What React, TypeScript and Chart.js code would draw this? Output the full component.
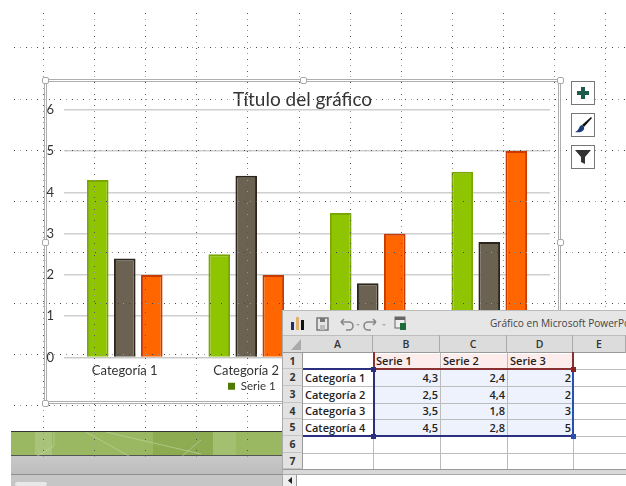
import React, { useEffect, useRef } from "react";
import { Chart, registerables } from "chart.js";

Chart.register(...registerables);

const categories = ["Categoría 1", "Categoría 2", "Categoría 3", "Categoría 4"];
const seriesNames = ["Serie 1", "Serie 2", "Serie 3"];
const serie1 = [4.3, 2.5, 3.5, 4.5];
const serie2 = [2.4, 4.4, 1.8, 2.8];
const serie3 = [2, 2, 3, 5];
const allSeries = [serie1, serie2, serie3];
const titleText = "Título del gráfico";
const columnLetters = ["A", "B", "C", "D", "E"];
const rowNumbers = [1, 2, 3, 4, 5, 6, 7];

const fills = ["#8fc400", "#6b6252", "#ff6600"];
const borders = ["#7aa600", "#2b251c", "#c93a00"];
const legendFills = ["#4e7a00", "#4a4438", "#c94f00"];
const chartFont = "'Lato', 'Liberation Sans', sans-serif";
const sheetFont = "'Open Sans', 'Noto Sans', sans-serif";

const colX = [303, 373, 440, 507, 573, 640];
const rowY = [353, 369, 386, 403, 419, 436, 453, 469];
const gridXs = [43, 94, 145, 196, 247, 299, 350, 401, 452, 503, 554, 605];
const gridYs = [47, 99, 150, 201, 252, 303, 354, 405];

const abs = (l: number, t: number, w: number, h: number): React.CSSProperties => ({
  position: "absolute", left: l, top: t, width: w, height: h, boxSizing: "border-box",
});

function Handle({ x, y }: { x: number; y: number }) {
  return <div style={{ ...abs(x - 3, y - 3, 7, 7), background: "#fff", border: "1px solid #a8a8a8", borderRadius: 2 }} />;
}

function SideButton({ y, children }: { y: number; children: React.ReactNode }) {
  return (
    <div style={{ ...abs(571, y, 24, 24), background: "#fff", border: "1px solid #777" }}>
      <svg width="22" height="22" viewBox="0 0 22 22" style={{ display: "block" }}>{children}</svg>
    </div>
  );
}

function Sheet() {
  const cell = (l: number, t: number, w: number, h: number, txt: string, o: React.CSSProperties = {}) => (
    <div key={`${l}-${t}`} style={{
      ...abs(l, t, w, h), fontFamily: sheetFont, fontSize: 11, fontWeight: 600, lineHeight: `${h}px`, color: "#222",
      paddingLeft: 2, paddingRight: 2, whiteSpace: "nowrap", overflow: "hidden", ...o,
    }}>{txt}</div>
  );
  return (
    <div style={{ ...abs(0, 0, 626, 486), pointerEvents: "none" }}>
      {/* soft halo the window leaves on what is behind it */}
      <div style={{ ...abs(277, 378, 6, 16), background: "#fff" }} />
      <div style={{ ...abs(282, 310, 344, 176), background: "#e6e6e6", borderLeft: "1px solid #aaa", borderTop: "1px solid #bbb" }} />
      {/* title bar */}
      <svg style={{ position: "absolute", left: 288, top: 314 }} width="120" height="18" viewBox="0 0 120 18">
        <rect x="3" y="8" width="3" height="8" fill="#1f2f6b" />
        <rect x="8" y="3" width="3" height="13" fill="#e0b070" />
        <rect x="13" y="6" width="3" height="10" fill="#111" />
        <rect x="29" y="4" width="11" height="12" fill="none" stroke="#777" strokeWidth="1.5" />
        <rect x="32" y="4" width="5" height="4" fill="#777" />
        <rect x="32" y="11" width="5" height="5" fill="#bbb" />
        <path d="M53 8 h8 a4 4 0 0 1 0 8 h-3 M53 8 l3-3 M53 8 l3 3" fill="none" stroke="#888" strokeWidth="1.6" />
        <path d="M68 10 h4 l-2 2z" fill="#aaa" />
        <path d="M88 8 h-8 a4 4 0 0 0 0 8 h3 M88 8 l-3-3 M88 8 l-3 3" fill="none" stroke="#888" strokeWidth="1.6" />
        <path d="M94 10 h4 l-2 2z" fill="#aaa" />
        <rect x="107" y="3" width="10" height="11" fill="#eee" stroke="#666" />
        <rect x="107" y="3" width="10" height="3" fill="#666" />
        <rect x="112" y="9" width="6" height="7" fill="#1d6b3a" />
      </svg>
      <div style={{ position: "absolute", left: 490, top: 316, fontFamily: sheetFont, fontSize: 10.1, lineHeight: "14px", color: "#444", whiteSpace: "nowrap", width: 136, overflow: "hidden" }}>
        Gráfico en Microsoft PowerPoint
      </div>
      {/* corner and headers */}
      <div style={{ ...abs(283, 335, 343, 18), background: "#dcdcdc", borderTop: "1px solid #bdbdbd", borderBottom: "1px solid #999" }} />
      <svg style={{ position: "absolute", left: 290, top: 338 }} width="12" height="13"><path d="M11 1V12H1Z" fill="#aaa" /></svg>
      {columnLetters.map((c, i) => (
        <div key={c} style={{ ...abs(colX[i], 335, Math.min(colX[i + 1], 626) - colX[i], 18), textAlign: "center", fontFamily: sheetFont, fontSize: 10.5, fontWeight: 600, lineHeight: "18px", color: "#333", borderRight: "1px solid #aaa" }}>{c}</div>
      ))}
      {rowNumbers.map((n, i) => (
        <div key={n} style={{ ...abs(283, rowY[i], 20, rowY[i + 1] - rowY[i]), background: "#e2e2e2", textAlign: "center", fontFamily: sheetFont, fontSize: 10.5, fontWeight: 700, lineHeight: `${rowY[i + 1] - rowY[i]}px`, color: "#333", borderBottom: "1px solid #c4c4c4", borderRight: "1px solid #999" }}>{n}</div>
      ))}
      {/* white cell area */}
      <div style={{ ...abs(303, 353, 323, 116), background: "#fff" }} />
      {/* range tints */}
      <div style={{ ...abs(374, 354, 200, 15), background: "#fdecec" }} />
      <div style={{ ...abs(374, 369, 200, 67), background: "#edf2fd" }} />
      {/* cell grid */}
      {rowY.slice(1).map((y) => <div key={y} style={{ ...abs(303, y, 323, 1), background: "#bcbcbc" }} />)}
      {colX.slice(1, 5).map((x) => <div key={x} style={{ ...abs(x, 353, 1, 116), background: "#bcbcbc" }} />)}
      {/* cell contents */}
      {seriesNames.map((s, i) => cell(colX[i + 1] + 1, 353, colX[i + 2] - colX[i + 1] - 1, 16, s))}
      {categories.map((c, r) => cell(303, rowY[r + 1], 70, rowY[r + 2] - rowY[r + 1], c))}
      {categories.map((_, r) => allSeries.map((vals, s) =>
        cell(colX[s + 1] + 1, rowY[r + 1], colX[s + 2] - colX[s + 1] - 1, rowY[r + 2] - rowY[r + 1], String(vals[r]).replace(".", ","), { textAlign: "right" })
      ))}
      {/* range outlines */}
      <div style={{ ...abs(373, 352, 201, 18), borderLeft: "2px solid #8a3030", borderRight: "2px solid #8a3030", borderBottom: "2px solid #8a3030" }} />
      <div style={{ ...abs(303, 368, 71, 69), borderTop: "2px solid #2a2f80", borderBottom: "2px solid #2a2f80" }} />
      <div style={{ ...abs(373, 369, 201, 68), borderLeft: "2px solid #2a2f80", borderRight: "2px solid #2f4fa8", borderBottom: "2px solid #2a2f80" }} />
      <div style={{ ...abs(371, 367, 5, 5), background: "#2a2f80" }} />
      <div style={{ ...abs(571, 367, 5, 5), background: "#8a2020" }} />
      <div style={{ ...abs(371, 434, 5, 5), background: "#2a2f80" }} />
      <div style={{ ...abs(571, 434, 5, 5), background: "#2a50b0" }} />
      {/* bottom strip */}
      <div style={{ ...abs(283, 469, 343, 5), background: "#d8d8d8", borderTop: "1px solid #999" }} />
      <div style={{ ...abs(283, 474, 343, 12), background: "#fff", borderTop: "1px solid #aaa" }} />
      <div style={{ ...abs(283, 475, 14, 11), background: "#eee", borderRight: "1px solid #999" }} />
      <svg style={{ position: "absolute", left: 287, top: 477 }} width="6" height="8"><path d="M5 0V7L1 3.5Z" fill="#222" /></svg>
    </div>
  );
}

export default function App() {
  const ref = useRef<HTMLCanvasElement>(null);
  const dotsRef = useRef<HTMLCanvasElement>(null);

  useEffect(() => {
    if (!ref.current) return;
    const chart = new Chart(ref.current, {
      type: "bar",
      data: {
        labels: categories,
        datasets: seriesNames.map((name, i) => ({
          label: name,
          data: allSeries[i],
          backgroundColor: fills[i],
          borderColor: borders[i],
          borderWidth: 2,
          barPercentage: 0.8,
          categoryPercentage: 0.667,
        })),
      },
      options: {
        responsive: false,
        animation: false,
        layout: { padding: { left: 0, right: 0, top: 0, bottom: 1 } },
        scales: {
          x: {
            afterFit: (s: any) => { s.height = 20; },
            grid: { display: false, drawTicks: false },
            border: { color: "#c8c8c8" },
            ticks: { color: "#333", font: { family: chartFont, size: 13 }, padding: 6 },
          },
          y: {
            min: 0,
            max: 6,
            afterFit: (s: any) => { s.width = 19; },
            grid: { color: "#cfcfcf", drawTicks: false, lineWidth: 1.5 },
            border: { display: false },
            ticks: { stepSize: 1, color: "#333", padding: 10, font: { family: chartFont, size: 13 } },
          },
          yRight: {
            axis: "y",
            position: "right",
            min: 0,
            max: 6,
            afterFit: (s: any) => { s.width = 10; },
            grid: { display: false, drawTicks: false },
            border: { display: false },
            ticks: { display: false },
          },
        },
        plugins: {
          title: { display: true, text: titleText, color: "#333", padding: { top: 8, bottom: -1 }, font: { family: chartFont, size: 19, weight: "normal" } },
          legend: {
            position: "bottom",
            labels: {
              color: "#333",
              boxWidth: 7,
              boxHeight: 7,
              padding: 3,
              font: { family: chartFont, size: 11.5 },
              generateLabels: () => seriesNames.map((n, i) => ({ text: n, fillStyle: legendFills[i], strokeStyle: legendFills[i], lineWidth: 0, datasetIndex: i, fontColor: "#333" })),
            },
          },
          tooltip: { enabled: false },
        },
      },
    } as any);

    // editor's dotted guides, drawn over the chart
    const c = dotsRef.current;
    if (c) {
      const g = c.getContext("2d")!;
      g.clearRect(0, 0, 626, 486);
      gridYs.forEach((y) => {
        let k = 0;
        for (let x = 14; x < 626; x += 5.75) { g.fillStyle = k++ % 2 ? "#999" : "#444"; g.fillRect(Math.round(x), y, 1, 1); }
      });
      gridXs.forEach((x) => {
        let k = 0;
        for (let y = 13; y < 456; y += 5.75) { g.fillStyle = k++ % 2 ? "#999" : "#555"; g.fillRect(x, Math.round(y), 1, 1); }
      });
    }
    return () => chart.destroy();
  }, []);

  return (
    <div style={{ position: "relative", width: 626, height: 486, overflow: "hidden", background: "#fff" }}>
      <style>{"html,body{margin:0;padding:0;background:#fff}"}</style>
      {/* slide bands */}
      <div style={{ ...abs(11, 431, 272, 25), background: "#9ab762", borderTop: "1px solid #333", borderBottom: "1px solid #555" }} />
      <div style={{ ...abs(35, 432, 17, 23), background: "#a9c47a" }} />
      <div style={{ ...abs(153, 432, 83, 23), background: "#8dac52" }} />
      <div style={{ ...abs(213, 432, 23, 23), background: "#a3bf70" }} />
      <svg style={{ position: "absolute", left: 11, top: 432 }} width="272" height="42" viewBox="0 0 272 42">
        <path d="M0 40 L43 14 V0 M75 0 L150 42 L190 8 M95 0 L190 22" fill="none" stroke="#c6d6a4" strokeWidth="1" opacity="0.6" />
      </svg>
      <div style={{ ...abs(11, 456, 272, 18), background: "linear-gradient(#c8c8c8,#bdbdbd)" }} />
      <div style={{ ...abs(11, 474, 272, 1), background: "#8e8e8e" }} />
      <div style={{ ...abs(11, 475, 272, 11), background: "#c6c6c6" }} />
      <div style={{ ...abs(15, 482, 32, 4), background: "#e8e8e8", borderRadius: 3 }} />
      {/* chart frame */}
      <div style={{ ...abs(44, 79, 517, 325), background: "#fff", border: "3px double #aeaeae" }} />
      <canvas ref={ref} width={515} height={323} style={{ position: "absolute", left: 45, top: 80, width: 515, height: 323 }} />
      <canvas ref={dotsRef} width={626} height={486} style={{ position: "absolute", left: 0, top: 0, pointerEvents: "none" }} />
      {[[45, 80], [303, 80], [560, 80], [45, 242], [560, 242], [45, 403]].map(([x, y]) => <Handle key={`${x}-${y}`} x={x} y={y} />)}
      <SideButton y={81}>
        <path d="M9 5h4v4h4v4h-4v4H9v-4H5V9h4z" fill="#1d5b4a" />
      </SideButton>
      <SideButton y={113}>
        <path d="M19 3 L20 4 L12 13 L10 11 Z" fill="#111" />
        <path d="M10 11 C6 12 8 16 3 18 C9 19 13 17 12 13 Z" fill="#1f3a7a" />
      </SideButton>
      <SideButton y={145}>
        <path d="M3 4h16l-6 7v7l-4-2v-5z" fill="#333" />
      </SideButton>
      <Sheet />
    </div>
  );
}
